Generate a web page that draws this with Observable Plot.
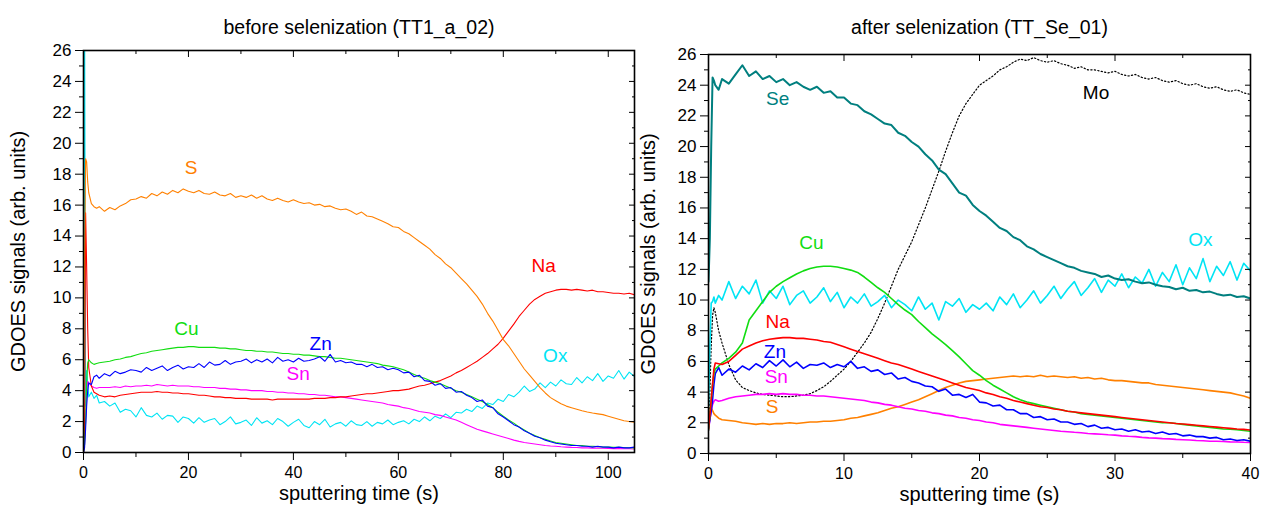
<!DOCTYPE html>
<html><head><meta charset="utf-8">
<script src="https://cdn.jsdelivr.net/npm/d3@7"></script>
<script src="https://cdn.jsdelivr.net/npm/@observablehq/plot@0.6"></script>
<style>
html,body{margin:0;padding:0;background:#fff;}
#wrap{display:flex;width:1261px;height:507px;overflow:hidden;}
svg{overflow:visible}
</style></head><body><div id="wrap"></div>
<script>
// ---------- DATA: left panel (before selenization) ----------
const timeL = [0,0.2,0.4,0.6,0.8,1,1.5,2,2.5,3,
 4,5,6,7,8,9,10,11,12,13,
 14,15,16,17,18,19,20,21,22,23,
 24,25,26,27,28,29,30,31,32,33,
 34,35,36,37,38,39,40,41,42,43,
 44,45,46,47,48,49,50,51,52,53,
 54,55,56,57,58,59,60,61,62,63,
 64,65,66,67,68,69,70,71,72,73,
 74,75,76,77,78,79,80,81,82,83,
 84,85,86,87,88,89,90,91,92,93,
 94,95,96,97,98,99,100,101,102,103,
 104,105];
const sL = [2,12,19.0,18.8,17.5,16.8,16.1,15.9,15.8,15.9,
 15.6,15.85,15.7,15.95,16.1,16.35,16.4,16.55,16.45,16.75,
 16.6,16.85,16.7,16.95,16.8,17.05,16.9,16.8,16.95,16.75,
 16.7,16.85,16.65,16.6,16.75,16.5,16.6,16.5,16.65,16.45,
 16.6,16.4,16.3,16.45,16.3,16.2,16.35,16.2,16.1,16.15,
 16.0,16.05,15.9,15.95,15.8,15.7,15.75,15.6,15.4,15.55,
 15.3,15.25,15.1,14.95,14.8,14.6,14.55,14.3,14.15,13.9,
 13.65,13.4,13.15,12.8,12.55,12.2,11.95,11.6,11.25,10.9,
 10.5,10.1,9.6,9.0,8.5,7.9,7.3,6.9,6.4,5.9,
 5.4,5.0,4.6,4.2,3.85,3.55,3.35,3.15,3.0,2.9,
 2.8,2.7,2.62,2.55,2.5,2.45,2.35,2.25,2.15,2.05,
 2.0,1.95];
const naL = [0,1.0,15.5,12,8,5.5,4.3,3.9,3.8,3.7,
 3.6,3.65,3.6,3.7,3.75,3.8,3.85,3.9,3.9,3.9,
 3.95,3.9,3.9,3.85,3.85,3.8,3.8,3.75,3.7,3.7,
 3.65,3.6,3.6,3.55,3.55,3.5,3.5,3.5,3.45,3.45,
 3.45,3.45,3.4,3.45,3.45,3.45,3.45,3.45,3.45,3.45,
 3.5,3.5,3.5,3.55,3.55,3.6,3.6,3.65,3.7,3.75,
 3.8,3.8,3.85,3.9,3.95,4.0,4.0,4.05,4.1,4.2,
 4.3,4.35,4.45,4.55,4.65,4.8,4.95,5.15,5.3,5.5,
 5.7,5.9,6.15,6.4,6.7,7.0,7.4,7.85,8.3,8.8,
 9.2,9.6,9.9,10.1,10.3,10.4,10.5,10.55,10.55,10.5,
 10.55,10.5,10.45,10.5,10.4,10.4,10.35,10.3,10.3,10.25,
 10.3,10.2];
const cuL = [0,0.5,2,4.5,5.8,6.0,5.8,5.7,5.75,5.8,
 5.85,5.9,6.0,6.05,6.15,6.2,6.3,6.4,6.45,6.55,
 6.6,6.65,6.7,6.75,6.8,6.8,6.85,6.85,6.8,6.8,
 6.8,6.8,6.75,6.75,6.7,6.7,6.65,6.6,6.6,6.55,
 6.55,6.5,6.5,6.45,6.4,6.4,6.35,6.35,6.3,6.3,
 6.25,6.2,6.2,6.15,6.1,6.1,6.05,6.0,5.95,5.9,
 5.85,5.8,5.75,5.65,5.6,5.55,5.45,5.35,5.2,5.05,
 4.9,4.8,4.65,4.55,4.45,4.3,4.15,4.0,3.9,3.75,
 3.6,3.45,3.3,3.1,2.9,2.6,2.35,2.1,1.9,1.65,
 1.45,1.25,1.1,0.95,0.85,0.75,0.65,0.6,0.55,0.5,
 0.45,0.45,0.4,0.4,0.38,0.36,0.35,0.34,0.33,0.32,
 0.31,0.3];
const znL = [0,0.3,1.5,3.0,4.0,4.5,4.4,4.9,5.0,4.8,
 5.1,4.95,5.25,5.1,5.2,5.35,5.3,5.2,5.5,5.3,
 5.45,5.6,5.3,5.5,5.65,5.4,5.55,5.5,5.75,5.5,
 5.85,5.65,5.7,5.95,5.7,5.85,5.9,6.05,5.8,6.0,
 5.85,6.05,5.8,6.15,5.9,6.0,5.85,6.1,5.9,5.95,
 6.05,6.2,5.9,6.35,5.85,5.95,5.8,5.85,5.7,5.7,
 5.55,5.7,5.5,5.55,5.35,5.45,5.35,5.15,5.2,4.9,
 5.0,4.65,4.6,4.35,4.45,4.15,4.2,3.9,3.95,3.7,
 3.55,3.3,3.4,3.0,2.9,2.5,2.3,2.05,1.8,1.65,
 1.4,1.25,1.05,0.95,0.8,0.7,0.6,0.55,0.5,0.45,
 0.45,0.4,0.4,0.35,0.4,0.35,0.35,0.3,0.35,0.3,
 0.3,0.35];
const snL = [0,0.5,2,4.0,4.6,4.5,4.3,4.2,4.15,4.2,
 4.2,4.2,4.25,4.2,4.3,4.25,4.3,4.3,4.35,4.3,
 4.4,4.35,4.3,4.35,4.3,4.3,4.3,4.25,4.25,4.2,
 4.2,4.2,4.15,4.15,4.1,4.1,4.05,4.05,4.0,4.0,
 4.0,3.95,3.95,3.9,3.9,3.85,3.85,3.8,3.8,3.75,
 3.75,3.7,3.7,3.65,3.6,3.6,3.55,3.5,3.45,3.4,
 3.35,3.3,3.25,3.2,3.1,3.05,3.0,2.9,2.85,2.75,
 2.65,2.6,2.55,2.45,2.4,2.3,2.2,2.1,1.95,1.8,
 1.65,1.5,1.4,1.3,1.2,1.1,1.0,0.9,0.8,0.72,
 0.65,0.6,0.55,0.5,0.45,0.42,0.4,0.37,0.35,0.33,
 0.32,0.3,0.3,0.28,0.28,0.27,0.26,0.25,0.25,0.24,
 0.24,0.23];
const oxL = [1,30,3,5.3,4.5,3.6,3.9,3.5,3.7,3.2,
 3.3,3.0,3.2,2.6,2.8,2.7,2.3,2.9,2.4,2.3,
 2.55,2.15,2.4,2.35,1.95,2.3,2.2,1.9,2.25,1.95,
 2.1,2.2,1.8,2.0,2.3,1.85,1.95,2.1,1.75,2.25,
 1.9,2.05,1.8,2.2,2.0,1.7,1.95,2.15,1.75,1.6,
 2.0,1.8,2.15,1.65,1.85,1.95,1.7,2.05,1.8,1.75,
 2.0,1.7,1.95,1.85,2.1,1.8,1.95,2.05,1.85,2.15,
 2.0,2.3,2.05,2.35,2.2,2.5,2.25,2.6,2.55,2.8,
 2.65,3.0,2.85,3.2,3.1,3.45,3.3,3.75,3.6,3.9,
 4.3,3.95,4.1,4.5,4.2,4.55,4.3,4.7,4.45,4.4,
 4.85,4.5,4.9,4.65,5.1,4.6,4.95,4.8,5.3,4.75,
 5.2,4.9];

// ---------- DATA: right panel (after selenization) ----------
const timeR = [0,0.1,0.2,0.3,0.4,0.5,0.75,1,
 1.5,2,2.5,3,3.5,4,4.5,5,
 5.5,6,6.5,7,7.5,8,8.5,9,9.5,10,
 10.5,11,11.5,12,12.5,13,13.5,14,14.5,15,
 15.5,16,16.5,17,17.5,18,18.5,19,19.5,20,
 20.5,21,21.5,22,22.5,23,23.5,24,24.5,25,
 25.5,26,26.5,27,27.5,28,28.5,29,29.5,30,
 30.5,31,31.5,32,32.5,33,33.5,34,34.5,35,
 35.5,36,36.5,37,37.5,38,38.5,39,39.5,40];
const seR = [11.2,14,20,24.5,24.3,24.0,23.7,24.4,
 24.1,24.7,25.3,24.6,24.9,24.4,24.6,24.2,
 24.4,24.0,24.2,23.9,23.7,23.9,23.5,23.6,23.2,23.2,
 22.8,22.7,22.3,22.1,21.8,21.5,21.4,20.9,20.7,20.3,
 20.0,19.5,19.1,18.5,18.2,17.6,17.0,16.8,16.2,15.8,
 15.5,15.1,14.7,14.5,14.1,13.9,13.5,13.3,13.0,12.8,
 12.6,12.4,12.2,12.1,11.9,11.8,11.7,11.5,11.6,11.4,
 11.3,11.35,11.2,11.1,11.15,11.0,10.9,10.85,10.7,10.8,
 10.6,10.65,10.5,10.55,10.4,10.3,10.35,10.2,10.25,10.1];
const moR = [2.0,4.0,7.0,9.0,9.5,9.2,8.0,7.2,
 5.8,4.8,4.3,4.1,3.95,3.85,3.8,3.75,
 3.7,3.7,3.75,3.8,3.9,4.1,4.35,4.7,5.1,5.5,
 6.0,6.6,7.2,7.9,8.8,9.8,10.9,12.0,12.9,13.8,
 14.9,16.0,17.2,18.4,19.7,20.9,22.0,22.8,23.4,24.0,
 24.3,24.6,25.0,25.2,25.5,25.7,25.6,25.8,25.6,25.5,
 25.6,25.4,25.3,25.1,25.2,25.0,25.0,24.9,24.8,24.9,
 24.7,24.6,24.7,24.5,24.4,24.5,24.3,24.2,24.3,24.1,
 24.0,24.1,23.9,23.8,23.9,23.7,23.6,23.7,23.5,23.4];
const cuR = [1.5,2.5,3.5,4.5,5.2,5.5,5.7,5.9,
 6.2,6.6,7.2,8.7,9.3,9.9,10.5,10.9,
 11.2,11.45,11.7,11.9,12.05,12.15,12.2,12.2,12.15,12.05,
 11.95,11.8,11.5,11.15,10.8,10.5,10.1,9.7,9.35,9.05,
 8.6,8.2,7.8,7.45,7.1,6.7,6.3,5.85,5.4,5.1,
 4.75,4.45,4.2,3.95,3.7,3.5,3.35,3.25,3.15,3.05,
 2.95,2.85,2.75,2.7,2.6,2.55,2.5,2.45,2.4,2.35,
 2.3,2.25,2.2,2.15,2.1,2.05,2.0,2.0,1.95,1.9,
 1.85,1.8,1.75,1.7,1.65,1.6,1.58,1.55,1.5,1.45];
const naR = [1.6,2.5,3.5,4.5,5.5,5.9,5.85,5.8,
 6.0,6.4,6.8,7.0,7.2,7.35,7.45,7.5,
 7.55,7.55,7.5,7.5,7.45,7.4,7.3,7.25,7.1,6.95,
 6.8,6.65,6.5,6.35,6.2,6.05,5.9,5.8,5.65,5.5,
 5.35,5.2,5.05,4.9,4.75,4.6,4.45,4.3,4.2,4.1,
 3.95,3.85,3.7,3.6,3.45,3.35,3.25,3.15,3.05,3.0,
 2.9,2.85,2.75,2.7,2.65,2.6,2.55,2.5,2.45,2.4,
 2.35,2.3,2.25,2.2,2.15,2.1,2.05,2.0,1.95,1.92,
 1.88,1.84,1.8,1.76,1.72,1.68,1.64,1.6,1.57,1.53];
const znR = [1.7,2.2,2.8,3.5,4.5,5.2,5.6,5.1,
 5.5,5.3,5.7,5.45,5.85,5.6,6.05,5.7,
 6.1,5.65,5.95,5.55,5.8,5.75,5.9,5.6,5.8,5.65,
 6.0,5.55,5.65,5.35,5.45,5.15,5.25,4.85,4.95,4.7,
 4.6,4.4,4.35,4.05,4.2,3.8,3.85,3.65,3.85,3.35,
 3.3,3.1,3.15,2.85,2.85,2.6,2.6,2.35,2.4,2.2,
 2.25,2.05,2.05,1.9,1.95,1.75,1.85,1.65,1.7,1.55,
 1.6,1.45,1.55,1.4,1.45,1.3,1.4,1.25,1.3,1.15,
 1.2,1.1,1.1,1.0,1.05,0.9,0.95,0.85,0.9,0.8];
const snR = [1.5,2.2,2.8,3.2,3.4,3.5,3.4,3.45,
 3.6,3.7,3.75,3.8,3.85,3.85,3.9,3.85,
 3.9,3.85,3.85,3.8,3.8,3.75,3.75,3.7,3.65,3.6,
 3.55,3.5,3.45,3.35,3.3,3.2,3.15,3.05,2.95,2.9,
 2.8,2.75,2.65,2.6,2.5,2.45,2.35,2.3,2.2,2.15,
 2.05,2.0,1.9,1.85,1.8,1.75,1.7,1.65,1.6,1.55,
 1.5,1.45,1.42,1.38,1.35,1.3,1.28,1.25,1.22,1.2,
 1.15,1.12,1.1,1.05,1.02,1.0,0.97,0.95,0.92,0.9,
 0.88,0.85,0.83,0.8,0.8,0.78,0.76,0.75,0.73,0.72];
const sR = [1.6,2.5,3.0,2.8,2.6,2.5,2.3,2.2,
 2.15,2.1,2.0,1.95,1.9,1.95,1.9,1.95,
 1.95,2.0,1.95,2.0,2.05,2.05,2.1,2.1,2.15,2.2,
 2.3,2.35,2.45,2.55,2.65,2.8,2.95,3.05,3.2,3.35,
 3.5,3.7,3.9,4.1,4.3,4.45,4.6,4.7,4.75,4.8,
 4.85,4.9,4.95,5.0,5.05,5.0,5.05,5.0,5.1,5.0,
 5.05,5.0,4.95,5.0,4.9,4.95,4.85,4.9,4.8,4.75,
 4.75,4.7,4.65,4.6,4.6,4.5,4.45,4.4,4.35,4.3,
 4.25,4.2,4.15,4.1,4.05,4.0,3.95,3.85,3.75,3.6];
const oxR = [3.0,7.0,9.8,9.9,10.2,9.8,10.3,10.0,
 11.2,10.1,10.9,10.4,11.3,9.8,10.6,10.1,
 10.9,9.7,10.3,10.6,9.8,10.2,10.8,9.9,10.5,9.5,
 10.2,9.8,10.4,9.6,9.9,10.3,9.5,10.0,9.7,9.3,
 10.2,9.4,9.8,8.7,9.9,9.6,10.1,9.2,9.7,9.4,
 9.8,9.3,10.2,9.7,10.4,9.5,10.0,10.6,9.8,10.3,
 10.9,10.1,10.7,11.2,10.3,10.8,11.4,10.5,11.3,10.9,
 11.7,10.8,11.5,11.1,12.0,10.9,11.8,11.2,12.3,11.0,
 12.1,11.4,12.7,11.2,12.2,11.6,12.5,11.3,12.4,11.9];

// ---------- axis ticks, texts, label anchors ----------
const yTicks = [0,2,4,6,8,10,12,14,16,18,20,22,24,26];
const yMinor = [1,3,5,7,9,11,13,15,17,19,21,23,25];
const xTicksL = [0,20,40,60,80,100];
const xMinorL = [10,30,50,70,90];
const xTicksR = [0,10,20,30,40];
const xMinorR = [5,15,25,35];
const titleL = "before selenization (TT1_a_02)";
const titleR = "after selenization (TT_Se_01)";
const xLabel = "sputtering time (s)";
const yLabel = "GDOES signals (arb. units)";
const labelNamesL = ["S","Na","Cu","Zn","Sn","Ox"];
const labelTL = [20.5,87.7,19.6,45.2,40.9,89.9];
const labelVL = [18.4,12.1,8.0,7.05,5.07,6.26];
const labelNamesR = ["Se","Mo","Cu","Ox","Na","Zn","Sn","S"];
const labelTR = [5.1,28.6,7.6,36.3,5.1,4.9,5.0,4.7];
const labelVR = [23.1,23.5,13.7,13.9,8.6,6.6,5.0,3.05];

// ---------- styles ----------
const COLORS = {S:"#ff8000", Na:"#ff0000", Cu:"#11dd11", Zn:"#0000ff", Sn:"#ff00ff", Ox:"#00e4f4", Se:"#007f7f", Mo:"#000000"};
const FONT = "Arial, 'Liberation Sans', Helvetica, sans-serif";

function panel(cfg) {
  const lineMarks = cfg.series.map(([name, vals]) => {
    const rows = vals.map((v, i) => ({t: cfg.time[i], v}));
    const opts = {x: "t", y: "v", stroke: COLORS[name], strokeWidth: cfg.sw, clip: true};
    if (name === "Mo") { opts.strokeDasharray = "1.3,2.2"; opts.strokeWidth = 1.2; }
    if (name === "Se") opts.strokeWidth = cfg.sw + 0.4;
    return Plot.line(rows, opts);
  });
  const labelMarks = cfg.labelNames.map((n, i) =>
    Plot.text([{t: cfg.labelT[i], v: cfg.labelV[i], n}], {x: "t", y: "v", text: "n", fill: COLORS[n], fontSize: 19}));
  const blank = () => "";
  return Plot.plot({
    width: cfg.width, height: 507,
    marginLeft: cfg.ml, marginRight: cfg.mr, marginTop: cfg.mt, marginBottom: cfg.mb,
    x: {domain: cfg.xDomain},
    y: {domain: [0, 26]},
    style: {fontFamily: FONT, fontSize: "16px", color: "#000", background: "#fff"},
    marks: [
      ...lineMarks,
      Plot.frame({stroke: "#000", strokeWidth: 1.6}),
      Plot.axisY(yTicks, {anchor: "left", tickSize: 8, tickPadding: 4, label: null, fontSize: 17}),
      Plot.axisY(yMinor, {anchor: "left", tickSize: 4, tickFormat: blank, label: null}),
      Plot.axisY(yTicks, {anchor: "right", tickSize: 6, dx: -6, tickFormat: blank, label: null}),
      Plot.axisY(yMinor, {anchor: "right", tickSize: 3, dx: -3, tickFormat: blank, label: null}),
      Plot.axisX(cfg.xTicks, {anchor: "bottom", tickSize: 8, tickPadding: 6, label: null, fontSize: 16}),
      Plot.axisX(cfg.xMinor, {anchor: "bottom", tickSize: 5, tickFormat: blank, label: null}),
      Plot.axisX(cfg.xTicks, {anchor: "top", tickSize: 6, dy: 6, tickFormat: blank, label: null}),
      Plot.axisX(cfg.xMinor, {anchor: "top", tickSize: 3, dy: 3, tickFormat: blank, label: null}),
      ...labelMarks,
      Plot.text([cfg.title], {frameAnchor: "top", textAnchor: "middle", dy: 20 - cfg.mt, fontSize: 19.5, text: d => d}),
      Plot.text([xLabel], {frameAnchor: "bottom", textAnchor: "middle", dy: 47, fontSize: 20, text: d => d}),
      Plot.text([yLabel], {frameAnchor: "left", textAnchor: "middle", dx: cfg.ylabDx, rotate: -90, fontSize: 20, text: d => d})
    ]
  });
}

const wrap = document.getElementById("wrap");
wrap.append(panel({
  width: 640, ml: 83, mr: 6, mt: 50, mb: 55, xDomain: [0, 105],
  xTicks: xTicksL, xMinor: xMinorL, title: titleL, sw: 1.1, ylabDx: -65,
  time: timeL,
  series: [["Ox", oxL], ["Sn", snL], ["Na", naL], ["Cu", cuL], ["Zn", znL], ["S", sL]],
  labelNames: labelNamesL, labelT: labelTL, labelV: labelVL
}));
wrap.append(panel({
  width: 621, ml: 68, mr: 11, mt: 54, mb: 54, xDomain: [0, 40],
  xTicks: xTicksR, xMinor: xMinorR, title: titleR, sw: 1.6, ylabDx: -60,
  time: timeR,
  series: [["Mo", moR], ["Ox", oxR], ["Se", seR], ["S", sR], ["Sn", snR], ["Zn", znR], ["Cu", cuR], ["Na", naR]],
  labelNames: labelNamesR, labelT: labelTR, labelV: labelVR
}));
</script></body></html>
